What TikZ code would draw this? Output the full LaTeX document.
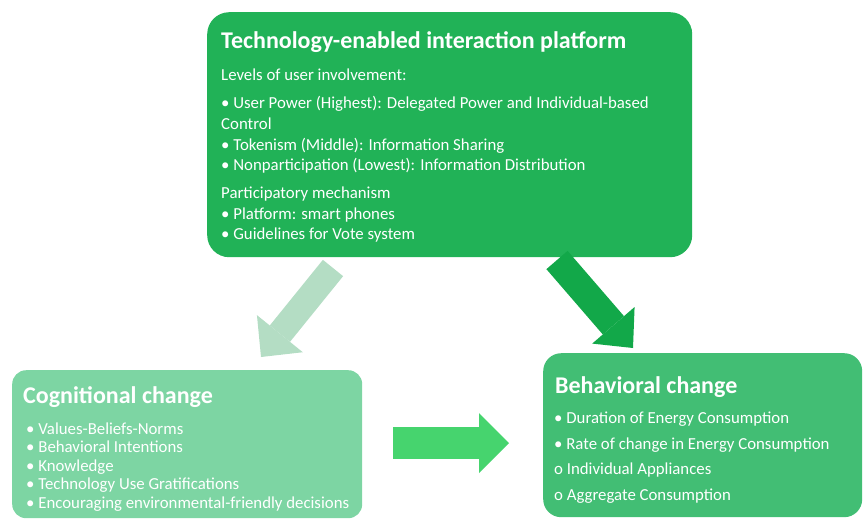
\documentclass[tikz,border=0pt]{standalone}
\usepackage{fontspec}
\setmainfont{Carlito}
\usetikzlibrary{arrows.meta,positioning}

\definecolor{platformgreen}{RGB}{33,178,87}
\definecolor{cognitiongreen}{RGB}{125,213,163}
\definecolor{behaviorgreen}{RGB}{66,190,116}
\definecolor{fadedgreen}{RGB}{180,221,196}
\definecolor{deepgreen}{RGB}{18,168,73}
\definecolor{brightgreen}{RGB}{70,212,110}

\begin{document}
\begin{tikzpicture}[
    x=1pt, y=-1pt,
    panel/.style={rectangle, anchor=north west, inner sep=0pt},
    boxtitle/.style={anchor=base west, inner sep=0pt, text=white, font=\fontsize{24}{28}\selectfont\bfseries},
    bodytext/.style={anchor=base west, inner sep=0pt, text=white, font=\fontsize{16.8}{20}\selectfont},
    blockarrow/.style={line width=#1},
]
\useasboundingbox (0,0) rectangle (864,520);

% the three boxes
\node[panel, fill=platformgreen, rounded corners=22pt, minimum width=485pt, minimum height=245pt] (platform) at (207,12) {};
\node[panel, fill=cognitiongreen, rounded corners=14pt, minimum width=350pt, minimum height=148pt] (cognition) at (12,370) {};
\node[panel, fill=behaviorgreen, rounded corners=18pt, minimum width=319pt, minimum height=164pt] (behavior) at (543,353) {};

% platform text
\node[boxtitle] (platform-title) at (221,48) {Technology-enabled interaction platform};
\foreach \y/\txt [count=\i] in {
    80.5/Levels of user involvement:,
    108.5/• User Power (Highest): Delegated Power and Individual-based,
    129/Control,
    150.5/• Tokenism (Middle): Information Sharing,
    170.5/• Nonparticipation (Lowest): Information Distribution,
    198.5/Participatory mechanism,
    219/• Platform: smart phones,
    239.5/• Guidelines for Vote system}
  \node[bodytext] (platform-\i) at (221,\y) {\txt};

% cognition text
\node[boxtitle] (cognition-title) at (23,403) {Cognitional change};
\foreach \y/\txt [count=\i] in {
    434.5/• Values-Beliefs-Norms,
    452.5/• Behavioral Intentions,
    471.5/• Knowledge,
    489.5/• Technology Use Gratifications,
    508.5/• Encouraging environmental-friendly decisions}
  \node[bodytext] (cognition-\i) at (26,\y) {\txt};

% behavior text
\node[boxtitle] (behavior-title) at (555,393) {Behavioral change};
\foreach \y/\txt [count=\i] in {
    423.5/• Duration of Energy Consumption,
    449.5/• Rate of change in Energy Consumption,
    474.5/o Individual Appliances,
    500.5/o Aggregate Consumption}
  \node[bodytext] (behavior-\i) at (554,\y) {\txt};

% block arrows
\coordinate (faded-tail) at (333,268);
\coordinate (faded-tip) at (261,357);
\coordinate (deep-tail) at (557,260);
\coordinate (deep-tip) at (633,348);
\coordinate (side-tail) at (393,443);
\coordinate (side-tip) at (509,443);

\draw[blockarrow=26pt, draw=fadedgreen, -{Triangle[length=30pt, width=59pt, line width=0pt]}] (faded-tail) -- (faded-tip);
\draw[blockarrow=28pt, draw=deepgreen, -{Triangle[length=30pt, width=56pt, line width=0pt]}] (deep-tail) -- (deep-tip);
\draw[blockarrow=32pt, draw=brightgreen, -{Triangle[length=30pt, width=60pt, line width=0pt]}] (side-tail) -- (side-tip);
\end{tikzpicture}
\end{document}
